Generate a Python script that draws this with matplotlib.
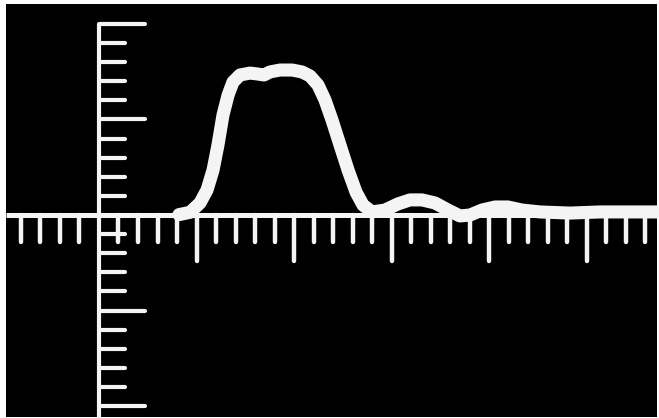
import matplotlib
matplotlib.use("Agg")
import matplotlib.pyplot as plt
from matplotlib.patches import Rectangle

# Trace (graticule units: x divisions, y divisions)
trace_x = [4.10, 4.67, 5.18, 5.54, 5.85, 6.10, 6.36, 6.62, 6.87, 7.23, 7.74,
           8.15, 8.46, 8.77, 9.28, 9.90, 10.41, 10.82, 11.23, 11.59, 11.95, 12.36,
           12.77, 13.18, 13.54, 14.00, 14.67, 15.33, 15.95, 16.56, 17.23, 17.90,
           18.51, 19.03, 19.64, 20.31, 20.97, 21.69, 22.62, 24.15, 25.69, 28.72]
trace_y = [0.02, 0.14, 0.63, 1.31, 2.36, 3.66, 5.24, 6.28, 6.96, 7.33, 7.43,
           7.38, 7.33, 7.49, 7.59, 7.59, 7.49, 7.28, 6.81, 6.02, 4.97, 3.66,
           2.36, 1.20, 0.52, 0.16, 0.26, 0.58, 0.79, 0.79, 0.63, 0.26,
           -0.05, 0.00, 0.26, 0.42, 0.42, 0.26, 0.16, 0.10, 0.16, 0.16]

# Graticule ticks
h_ticks = [i for i in range(-4, 29) if i != 0]
v_ticks = [i for i in range(-10, 11) if i != 0]

W, H = 659, 418
fig = plt.figure(figsize=(W / 100, H / 100), dpi=100)
fig.patch.set_facecolor("white")
ax = fig.add_axes([0, 0, 1, 1])
ax.set_facecolor("white")
ux, uy = 19.5, 19.1
x0, y0 = 99, 215
ax.set_xlim(-x0 / ux, (W - x0) / ux)
ax.set_ylim(-(H - y0) / uy, y0 / uy)
ax.axis("off")

ax.add_patch(Rectangle((6 / W, 1 / H), 651 / W, 413 / H, transform=ax.transAxes,
                       facecolor="black", edgecolor="none", zorder=0))

white = "#f4f4f4"
xmin, xmax = ax.get_xlim()
ymin, ymax = ax.get_ylim()

# horizontal axis
ax.plot([6 / ux - x0 / ux, xmax], [0, 0], color=white, lw=3.6, solid_capstyle="butt", zorder=2)
# vertical axis
ax.plot([0, 0], [10, ymin], color=white, lw=3.0, solid_capstyle="butt", zorder=2)

for t in h_ticks:
    L = 2.42 if t % 5 == 0 else 1.39
    ax.plot([t, t], [0, -L], color=white, lw=3.2, solid_capstyle="round", zorder=2)
for t in v_ticks:
    L = 2.36 if t % 5 == 0 else 1.33
    ax.plot([0, L], [t, t], color=white, lw=3.0, solid_capstyle="round", zorder=2)

ax.plot(trace_x, trace_y, color=white, lw=9.4, solid_capstyle="round",
        solid_joinstyle="round", zorder=3)

fig.savefig("out.png", dpi=100, facecolor="white")
